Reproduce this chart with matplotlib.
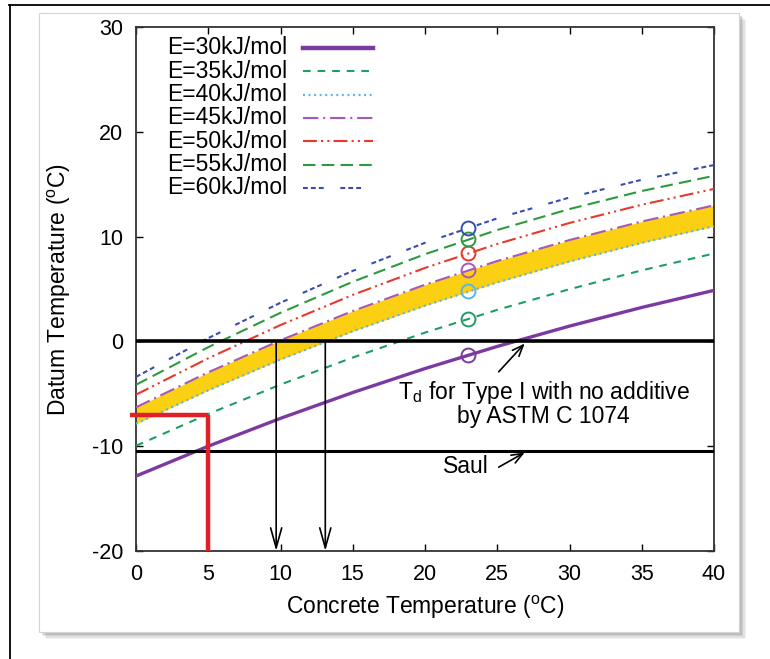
import numpy as np
import matplotlib
matplotlib.use("Agg")
import matplotlib.pyplot as plt
from matplotlib.patches import Rectangle
from matplotlib.lines import Line2D

plt.rcParams['font.family'] = ['Liberation Sans', 'DejaVu Sans']
plt.rcParams['mathtext.fontset'] = 'custom'
plt.rcParams['mathtext.rm'] = 'Liberation Sans'
plt.rcParams['mathtext.it'] = 'Liberation Sans:italic'
plt.rcParams['lines.scale_dashes'] = False
plt.rcParams['axes.unicode_minus'] = False

# concrete temperature (C)
temp = [0, 5, 10, 15, 20, 25, 30, 35, 40]

# datum temperature (C) for each activation energy
td_30 = [-12.85, -10.00, -7.34, -4.88, -2.59, -0.48, 1.46, 3.24, 4.87]
td_35 = [-9.96, -6.93, -4.12, -1.54, 0.84, 3.01, 4.98, 6.78, 8.39]
td_40 = [-7.86, -4.67, -1.73, 0.96, 3.41, 5.63, 7.62, 9.40, 10.99]
td_45 = [-6.29, -2.95, 0.11, 2.90, 5.41, 7.67, 9.67, 11.44, 12.98]
td_50 = [-5.08, -1.61, 1.56, 4.44, 7.01, 9.30, 11.30, 13.04, 14.55]
td_55 = [-4.14, -0.55, 2.73, 5.69, 8.32, 10.63, 12.63, 14.35, 15.80]
td_60 = [-3.39, 0.31, 3.69, 6.73, 9.41, 11.74, 13.73, 15.42, 16.83]

labels = ['E=30kJ/mol', 'E=35kJ/mol', 'E=40kJ/mol', 'E=45kJ/mol',
          'E=50kJ/mol', 'E=55kJ/mol', 'E=60kJ/mol']

# values at the 23 C reference temperature (circles)
ref_temp = 23
ref_td = [-1.3, 2.17, 4.77, 6.80, 8.42, 9.74, 10.85]

# markers on the chart
td_red = -7.0          # red guide
arrow_x = [9.7, 13.1]  # where the shaded band crosses 0
saul_td = -10.5

series = [td_30, td_35, td_40, td_45, td_50, td_55, td_60]
colors = ['#7a3aa0', '#1e9e62', '#5bb4e6', '#a558b8', '#e8382c', '#2e9a40', '#3a4cb0']
dashes = [None, (5.5, 5), (1.4, 2.6), (11, 3.5, 1.5, 3.5),
          (10, 3, 1.5, 3, 1.5, 3), (9, 4.5), (3.5, 2.2, 3.5, 2.2, 3.5, 12)]
widths = [2.4, 1.5, 1.6, 1.5, 1.5, 1.5, 1.5]
fs = 16.5

fig = plt.figure(figsize=(7.7, 6.59), dpi=100)

# outer frame lines and the shadowed panel
fig.add_artist(Line2D([9.5 / 770, 9.5 / 770], [0, 1 - 5 / 659], color='black', lw=1.3))
fig.add_artist(Line2D([9 / 770, 1], [1 - 5 / 659, 1 - 5 / 659], color='black', lw=1.3))
px, py, pw, ph = 39 / 770, 1 - 632 / 659, 700 / 770, 619 / 659
for k, a in enumerate([0.10, 0.14, 0.18, 0.22]):
    off = (7 - k * 1.5)
    fig.add_artist(Rectangle((px + off / 770, py - off / 659), pw, ph, facecolor='#808080',
                             edgecolor='none', alpha=a, zorder=-3))
fig.add_artist(Rectangle((px, py), pw, ph, facecolor='white', edgecolor='#d4d4d4', lw=0.8, zorder=-2))

ax = fig.add_axes([136 / 770, 1 - 551 / 659, 578 / 770, 524 / 659])
ax.set_xlim(0, 40)
ax.set_ylim(-20, 30)

# shaded band between E=40 and E=45
ax.fill_between(temp, td_40, td_45, color='#fbd012', lw=0, zorder=2)

for s, c, d, w in zip(series, colors, dashes, widths):
    if d is None:
        ax.plot(temp, s, color=c, lw=w, zorder=3)
    else:
        ax.plot(temp, s, color=c, lw=w, dashes=d, zorder=3)

for v, c in zip(ref_td, colors):
    ax.plot([ref_temp], [v], 'o', ms=10, mfc='none', mec=c, mew=1.4, zorder=4)

ax.axhline(0, color='black', lw=2.6, zorder=3)
ax.axhline(saul_td, color='black', lw=2.2, zorder=3)

# red guide lines
ax.plot([-0.4, 5], [td_red, td_red], color='#e21f26', lw=3.2, clip_on=False, zorder=5,
        solid_capstyle='butt')
ax.plot([5, 5], [td_red, -20], color='#e21f26', lw=3.2, zorder=5, solid_capstyle='butt')

for xa in arrow_x:
    ax.annotate('', xy=(xa, -20), xytext=(xa, 0),
                arrowprops=dict(arrowstyle='->,head_length=0.9,head_width=0.25',
                                lw=1.2, color='black', mutation_scale=16,
                                shrinkA=0, shrinkB=0), zorder=4)

ax.annotate('', xy=(26.9, -0.2), xytext=(25.1, -2.9),
            arrowprops=dict(arrowstyle='->,head_length=0.5,head_width=0.2',
                            lw=1.2, color='black', mutation_scale=16, shrinkA=0, shrinkB=0))
ax.annotate('', xy=(26.9, -10.6), xytext=(25.1, -12.0),
            arrowprops=dict(arrowstyle='->,head_length=0.5,head_width=0.2',
                            lw=1.2, color='black', mutation_scale=16, shrinkA=0, shrinkB=0))

ax.text(28.2, -5.9, 'T$_{\\mathrm{d}}$ for Type I with no additive\nby ASTM C 1074',
        ha='center', va='center', fontsize=fs, linespacing=0.92, zorder=6)
ax.text(22.8, -11.9, 'Saul', ha='center', va='center', fontsize=fs, zorder=6)

# legend drawn by hand: labels right aligned, samples to the right
for i, (lab, c, d, w) in enumerate(zip(labels, colors, dashes, widths)):
    yy = 0.960 - 0.0445 * i
    ax.text(0.262, yy, lab, transform=ax.transAxes, ha='right', va='center', fontsize=fs)
    kw = dict(color=c, lw=w if i else 3.2, transform=ax.transAxes)
    if d is not None:
        kw['dashes'] = d
    ax.add_line(Line2D([0.2889, 0.4100], [yy, yy], **kw))

ax.set_xticks(np.arange(0, 41, 5))
ax.set_yticks(np.arange(-20, 31, 10))
ax.tick_params(direction='in', length=5, width=1, top=True, right=True,
               labelsize=15.5, pad=9)
for sp in ax.spines.values():
    sp.set_linewidth(1.3)
    sp.set_color('#333333')

ax.set_xlabel('Concrete Temperature ($^{\\mathrm{o}}$C)', fontsize=fs)
ax.set_ylabel('Datum Temperature ($^{\\mathrm{o}}$C)', fontsize=fs)
ax.xaxis.set_label_coords(0.5, -0.082)
ax.yaxis.set_label_coords(-0.109, 0.5)

fig.savefig('out.png', dpi=100)
